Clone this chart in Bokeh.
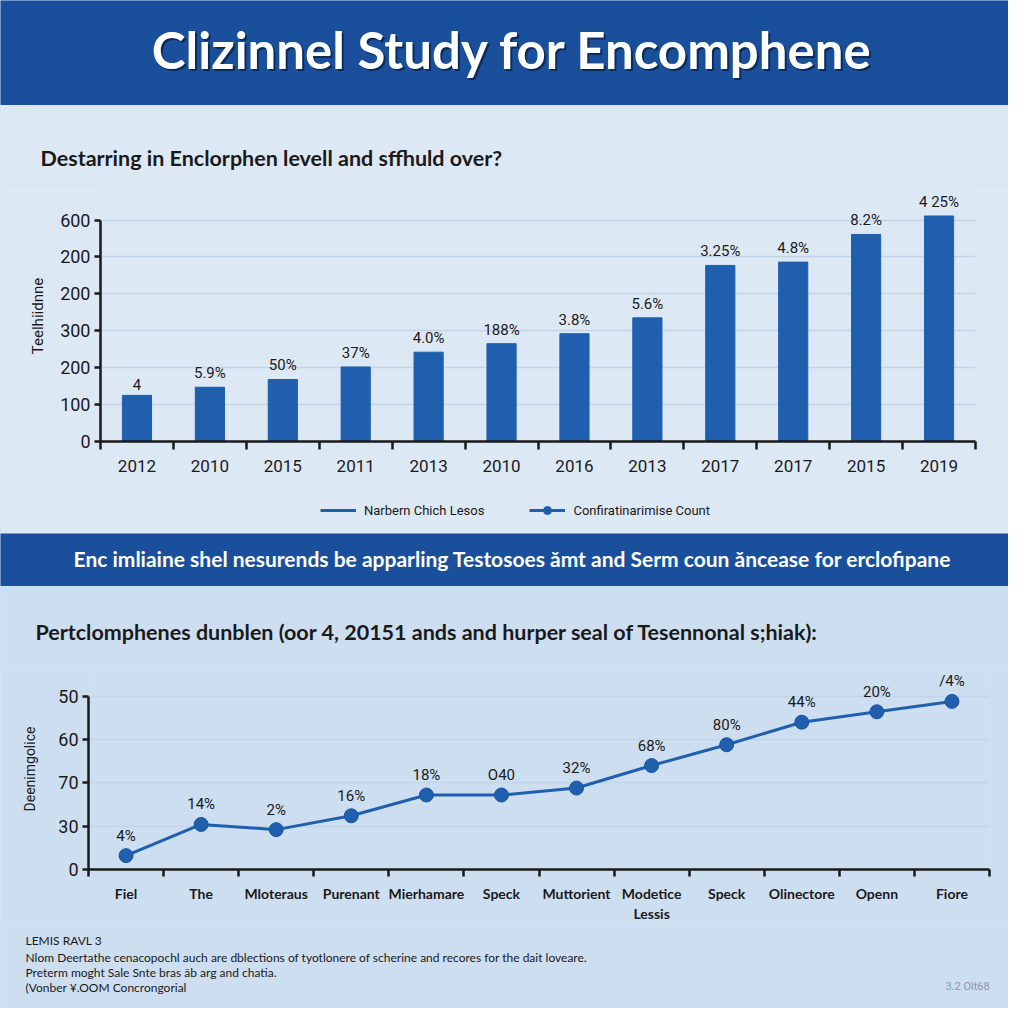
from bokeh.plotting import figure
from bokeh.layouts import column
from bokeh.models import Range1d, FixedTicker, Legend, LegendItem, Label
from bokeh.core.properties import value
from bokeh.embed import file_html
from bokeh.resources import INLINE

# ---------------- data ----------------
TITLE = "Clizinnel Study for Encomphene"
SUBTITLE1 = "Destarring in Enclorphen levell and sffhuld over?"
BANNER = "Enc imliaine shel nesurends be apparling Testosoes ămt and Serm coun ăncease for erclofipane"
SUBTITLE2 = "Pertclomphenes dunblen (oor 4, 20151 ands and hurper seal of Tesennonal s;hiak):"

bar_years = ["2012", "2010", "2015", "2011", "2013", "2010", "2016", "2013", "2017", "2017", "2015", "2019"]
bar_values = [125, 147, 168, 202, 242, 265, 292, 335, 477, 486, 561, 611]
bar_labels = ["4", "5.9%", "50%", "37%", "4.0%", "188%", "3.8%", "5.6%", "3.25%", "4.8%", "8.2%", "4 25%"]
bar_ticks = [0, 100, 200, 300, 400, 500, 600]
bar_tick_labels = ["0", "100", "200", "300", "200", "200", "600"]
bar_ylabel = "Teelhiidnne"
legend_labels = ["Narbern Chich Lesos", "Confiratinarimise Count"]

line_cats = ["Fiel", "The", "Mloteraus", "Purenant", "Mierhamare", "Speck", "Muttorient",
             "Modetice\nLessis", "Speck", "Olinectore", "Openn", "Fiore"]
line_values = [8, 26, 23, 31, 43, 43, 47, 60, 72, 85, 91, 97]
line_labels = ["4%", "14%", "2%", "16%", "18%", "O40", "32%", "68%", "80%", "44%", "20%", "/4%"]
line_ticks = [0, 25, 50, 75, 100]
line_tick_labels = ["0", "30", "70", "60", "50"]
line_ylabel = "Deenimgolice"

footer_lines = [
    "LEMIS RAVL 3",
    "Nlom Deertathe cenacopochl auch are dblections of tyotlonere of scherine and recores for the dait loveare.",
    "Preterm moght Sale Snte bras ăb arg and chatia.",
    "(Vonber ¥.OOM Concrongorial",
]
footer_note = "3.2 Olt68"

# ---------------- style ----------------
W = 1008
DARK_BLUE = "#1a4f9c"
BAR_BLUE = "#1f5fae"
BG1 = "#dde8f5"
BG2 = "#cddef1"
INK = "#1a1a1a"
GRID = "#c4d4e7"
FONT = "Roboto"


def text_panel(h, bg):
    p = figure(width=W, height=h, x_range=Range1d(0, W), y_range=Range1d(0, h),
               output_backend="svg", toolbar_location=None, frame_align=False,
               min_border=0, x_axis_location=None, y_axis_location=None,
               background_fill_color=bg, border_fill_color=bg, outline_line_color=None)
    p.grid.visible = False
    return p


def add_label(p, x, y, text, **kw):
    p.add_layout(Label(x=x, y=y, text=text, **kw))


def style_axes(ax_y, ax_x, ylabel, ysize, ystand):
    ax_y.axis_label = ylabel
    ax_y.axis_label_text_font = FONT
    ax_y.axis_label_text_font_style = "normal"
    ax_y.axis_label_text_font_size = ysize
    ax_y.axis_label_text_color = INK
    ax_y.axis_label_standoff = ystand
    ax_y.major_label_text_font = FONT
    ax_y.major_label_text_font_size = "18px"
    ax_y.major_label_text_color = INK
    ax_y.major_label_standoff = 4
    ax_y.major_tick_out = 6
    ax_y.major_tick_in = 0
    ax_y.minor_tick_line_color = None
    ax_y.axis_line_width = 2.5
    ax_y.axis_line_color = INK
    ax_y.major_tick_line_width = 2.5
    ax_y.major_tick_line_color = INK
    ax_x.major_tick_out = 0
    ax_x.major_tick_in = 0
    ax_x.minor_tick_in = 0
    ax_x.minor_tick_line_width = 2.5
    ax_x.minor_tick_line_color = INK
    ax_x.axis_line_width = 2.5
    ax_x.axis_line_color = INK
    ax_x.major_label_text_color = INK


# header
hdr = text_panel(105, DARK_BLUE)
add_label(hdr, 514, 54, TITLE, text_color="#0b2550", text_alpha=0.85, text_font="Lato",
          text_font_style="bold", text_font_size="51px", text_align="center", text_baseline="middle")
add_label(hdr, 512, 56, TITLE, text_color="white", text_font="Lato",
          text_font_style="bold", text_font_size="51px", text_align="center", text_baseline="middle")

# subtitle 1
sub1 = text_panel(80, BG1)
add_label(sub1, 40, 28, SUBTITLE1, text_color=INK, text_font="Lato", text_font_style="bold",
          text_font_size="21.5px", text_align="left", text_baseline="middle")

# bar chart
xs = list(range(len(bar_years)))
p1 = figure(width=W, height=291, x_range=Range1d(-0.5, len(xs) - 0.5), y_range=Range1d(0, 680),
            output_backend="svg", toolbar_location=None, frame_align=False,
            min_border_left=100, min_border_right=33, min_border_top=5, min_border_bottom=35,
            background_fill_color=BG1, border_fill_color=BG1, outline_line_color=None)
p1.vbar(x=xs, top=bar_values, width=0.4, fill_color=BAR_BLUE, line_color=BAR_BLUE)
p1.text(x=xs, y=bar_values, text=bar_labels, y_offset=-5, text_color=INK,
        text_font=value(FONT), text_font_size="15px", text_align="center", text_baseline="bottom")

yax = p1.yaxis[0]
xax = p1.xaxis[0]
style_axes(yax, xax, bar_ylabel, "15px", 10)
yax.ticker = FixedTicker(ticks=bar_ticks)
yax.major_label_overrides = dict(zip(bar_ticks, bar_tick_labels))
yax.bounds = (0, 600)
xax.ticker = FixedTicker(ticks=xs, minor_ticks=[i - 0.5 for i in range(len(xs) + 1)])
xax.major_label_overrides = dict(zip(xs, bar_years))
xax.bounds = (-0.5, len(xs) - 0.5)
xax.minor_tick_out = 8
xax.major_label_text_font = FONT
xax.major_label_text_font_size = "17px"
xax.major_label_standoff = 10

p1.xgrid.visible = False
p1.ygrid.ticker = FixedTicker(ticks=bar_ticks)
p1.ygrid.grid_line_color = GRID
p1.ygrid.grid_line_width = 1.5

# legend row (legend samples only; the renderers themselves are hidden)
leg = text_panel(57, BG1)
r_a = leg.line(x=xs, y=bar_values, line_color=BAR_BLUE, line_width=3, visible=False)
lx = list(range(len(line_cats)))
r_b = leg.line(x=lx, y=line_values, line_color=BAR_BLUE, line_width=3, visible=False)
r_c = leg.scatter(x=lx, y=line_values, size=13, fill_color=BAR_BLUE, line_color=BAR_BLUE, visible=False)
legend = Legend(items=[LegendItem(label=legend_labels[0], renderers=[r_a]),
                       LegendItem(label=legend_labels[1], renderers=[r_b, r_c])],
                orientation="horizontal", location=(320, 13),
                background_fill_alpha=0, border_line_color=None,
                inactive_fill_alpha=0,
                label_text_font=FONT, label_text_font_size="13px", label_text_color=INK,
                glyph_width=36, glyph_height=20, label_standoff=8, spacing=45,
                padding=5, margin=0)
leg.add_layout(legend)

# banner
ban = text_panel(53, DARK_BLUE)
add_label(ban, 512, 28, BANNER, text_color="white", text_font="Lato", text_font_style="bold",
          text_font_size="21px", text_align="center", text_baseline="middle")

# subtitle 2
sub2 = text_panel(79, BG2)
add_label(sub2, 35, 34, SUBTITLE2, text_color=INK, text_font="Lato", text_font_style="bold",
          text_font_size="21.5px", text_align="left", text_baseline="middle")

# line chart
p2 = figure(width=W, height=260, x_range=Range1d(-0.5, len(lx) - 0.5), y_range=Range1d(0, 116),
            output_backend="svg", toolbar_location=None, frame_align=False,
            min_border_left=88, min_border_right=19, min_border_top=3, min_border_bottom=56,
            background_fill_color=BG2, border_fill_color=BG2, outline_line_color=None)
p2.line(x=lx, y=line_values, line_color=BAR_BLUE, line_width=3)
p2.scatter(x=lx, y=line_values, size=14, fill_color=BAR_BLUE, line_color="#1a56a0", line_width=1)
p2.text(x=lx, y=line_values, text=line_labels, y_offset=-11, text_color=INK,
        text_font=value(FONT), text_font_size="15px", text_align="center", text_baseline="bottom")

ya2 = p2.yaxis[0]
xa2 = p2.xaxis[0]
style_axes(ya2, xa2, line_ylabel, "14px", 17)
ya2.ticker = FixedTicker(ticks=line_ticks)
ya2.major_label_overrides = dict(zip(line_ticks, line_tick_labels))
ya2.bounds = (0, 100)
xa2.ticker = FixedTicker(ticks=lx, minor_ticks=[i - 0.5 for i in range(len(lx) + 1)])
xa2.major_label_overrides = dict(zip(lx, line_cats))
xa2.bounds = (-0.5, len(lx) - 0.5)
xa2.minor_tick_out = 7
xa2.major_label_text_font = "Lato"
xa2.major_label_text_font_style = "bold"
xa2.major_label_text_font_size = "14px"
xa2.major_label_standoff = 8

p2.xgrid.visible = False
p2.ygrid.ticker = FixedTicker(ticks=line_ticks)
p2.ygrid.grid_line_color = GRID
p2.ygrid.grid_line_width = 1.5

# footer
ftr = text_panel(83, BG2)
for yy, line in zip([68, 51, 36, 21], footer_lines):
    add_label(ftr, 25, yy, line, text_color=INK, text_font="Lato", text_font_size="12px",
              text_align="left", text_baseline="middle")
add_label(ftr, 967, 22, footer_note, text_color="#8a96a6", text_font=FONT, text_font_size="11px",
          text_align="center", text_baseline="middle")

layout = column(hdr, sub1, p1, leg, ban, sub2, p2, ftr, spacing=0,
                styles={"background-color": "#d6e3f3"})

with open("out.html", "w") as f:
    f.write(file_html(layout, INLINE))
